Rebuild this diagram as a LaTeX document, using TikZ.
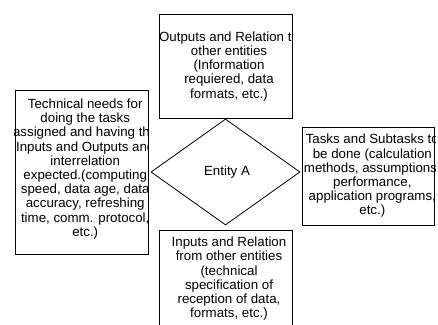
\documentclass[tikz,border=0pt]{standalone}
\usepackage{fontspec}
\setmainfont{Liberation Sans}
\usetikzlibrary{positioning,shapes.geometric}

\begin{document}
\begin{tikzpicture}[x=1pt, y=-1pt,
    box/.style={draw, line width=0.8pt, inner sep=0pt},
    txt/.style={align=center, inner sep=0pt, xshift=3.5pt, font=\fontsize{13.3}{14.2}\selectfont}]
  \useasboundingbox (0,0) rectangle (438,324);
  \clip (0,0) rectangle (438,324);
  \node [draw, line width=0.8pt, shape=diamond, inner sep=0pt,
         minimum width=149pt, minimum height=106pt] (ent) at (225.5,172) {};
  \node [txt, xshift=-2pt] at (ent) {Entity A};
  \node [box, above=0pt of ent, minimum width=133pt, minimum height=104pt] (out) {};
  \node [box, left=2pt of ent, minimum width=133pt, minimum height=164pt] (tech) {};
  \node [box, right=2pt of ent, yshift=-4pt, minimum width=132pt, minimum height=98pt] (task) {};
  \node [box, below=5pt of ent, minimum width=133pt, minimum height=104pt] (inp) {};
  % texts run past the right side of the boxes
  \begin{scope}
    \clip (out.south west) rectangle (out.north east);
    \node [txt] at (out) {Outputs and Relation to\\other entities\\(Information\\requiered, data\\formats, etc.)};
  \end{scope}
  \begin{scope}
    \clip (tech.south west) rectangle (tech.north east);
    \node [txt, yshift=3pt] at (tech) {Technical needs for\\doing the tasks\\assigned and having the\\Inputs and Outputs and\\interrelation\\expected.(computing\\speed, data age, data\\accuracy, refreshing\\time, comm. protocol,\\etc.)};
  \end{scope}
  \begin{scope}
    \clip (task.south west) rectangle (task.north east);
    \node [txt] at (task) {Tasks and Subtasks to\\be done (calculation\\methods, assumptions,\\performance,\\application programs,\\etc.)};
  \end{scope}
  \begin{scope}
    \clip (inp.south west) rectangle (inp.north east);
    \node [txt, yshift=4pt] at (inp) {Inputs and Relation\\from other entities\\(technical\\specification of\\reception of data,\\formats, etc.)};
  \end{scope}
\end{tikzpicture}
\end{document}
